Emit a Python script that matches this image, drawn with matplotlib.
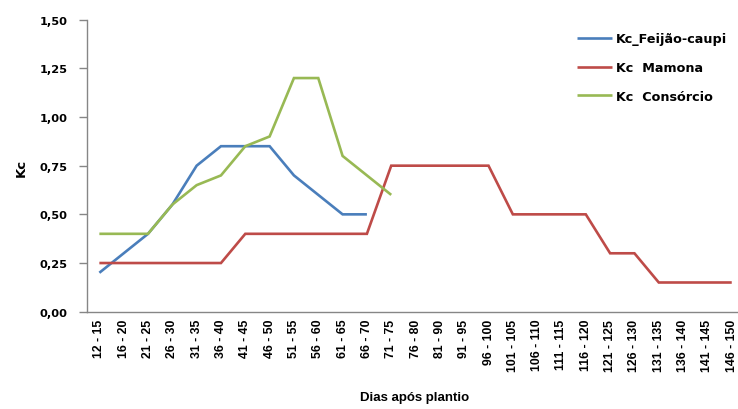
import matplotlib
matplotlib.use("Agg")
import matplotlib.pyplot as plt
import numpy as np

categories = ["12 - 15", "16 - 20", "21 - 25", "26 - 30", "31 - 35", "36 - 40", "41 - 45",
              "46 - 50", "51 - 55", "56 - 60", "61 - 65", "66 - 70", "71 - 75", "76 - 80",
              "81 - 90", "91 - 95", "96 - 100", "101 - 105", "106 - 110", "111 - 115",
              "116 - 120", "121 - 125", "126 - 130", "131 - 135", "136 - 140", "141 - 145",
              "146 - 150"]
kc_feijao = [0.20, 0.30, 0.40, 0.55, 0.75, 0.85, 0.85, 0.85, 0.70, 0.60, 0.50, 0.50]
kc_mamona = [0.25, 0.25, 0.25, 0.25, 0.25, 0.25, 0.40, 0.40, 0.40, 0.40, 0.40, 0.40,
             0.75, 0.75, 0.75, 0.75, 0.75, 0.50, 0.50, 0.50, 0.50, 0.30, 0.30, 0.15,
             0.15, 0.15, 0.15]
kc_consorcio = [0.40, 0.40, 0.40, 0.55, 0.65, 0.70, 0.85, 0.90, 1.20, 1.20, 0.80, 0.70, 0.60]
series_labels = ["Kc_Feijão-caupi", "Kc  Mamona", "Kc  Consórcio"]
yticks = [0.0, 0.25, 0.5, 0.75, 1.0, 1.25, 1.5]

colors = ["#4A7EBB", "#BE4B48", "#98B954"]

fig = plt.figure(figsize=(7.38, 4.10), dpi=100)
ax = fig.add_axes([87.2 / 738, 97.3 / 410, (743.9 - 87.2) / 738, (389.35 - 97.3) / 410])

bold = dict(family=["DejaVu Sans"], weight="bold")
narrow = dict(family=["Liberation Sans"], weight="bold")

x = np.arange(len(categories))
for vals, c, lab in zip([kc_feijao, kc_mamona, kc_consorcio], colors, series_labels):
    ax.plot(x[:len(vals)], vals, color=c, lw=1.9, label=lab, solid_joinstyle="miter",
            solid_capstyle="butt", clip_on=False)

ax.set_xlim(-0.5, len(categories) - 0.5)
ax.set_ylim(0, 1.5)
ax.set_yticks(yticks)
ax.set_yticklabels([f"{v:.2f}".replace(".", ",") for v in yticks], fontsize=8.2, **bold)
ax.set_xticks(x)
ax.set_xticklabels(categories, rotation=90, fontsize=8.8, **narrow)
ax.tick_params(axis="x", length=0, pad=5)
ax.tick_params(axis="y", length=6, width=1, color="#868686", pad=8)

for s in ["top", "right"]:
    ax.spines[s].set_visible(False)
for s in ["left", "bottom"]:
    ax.spines[s].set_color("#868686")
    ax.spines[s].set_linewidth(1.0)

fig.text(21 / 738, 1 - 168 / 410, "Kc", rotation=90, ha="center", va="center", fontsize=9.5, **bold)
fig.text(415 / 738, 1 - 398 / 410, "Dias após plantio", ha="center", va="center", fontsize=9.5,
         **narrow)

leg = ax.legend(loc="upper left", bbox_to_anchor=(577 / 738, 1 - 33 / 410),
                bbox_transform=fig.transFigure, frameon=False, handlelength=2.75,
                handletextpad=0.3, labelspacing=1.25, borderpad=0, borderaxespad=0,
                prop=dict(family="DejaVu Sans", weight="bold", size=9.2))

fig.savefig("out.png", dpi=100)
